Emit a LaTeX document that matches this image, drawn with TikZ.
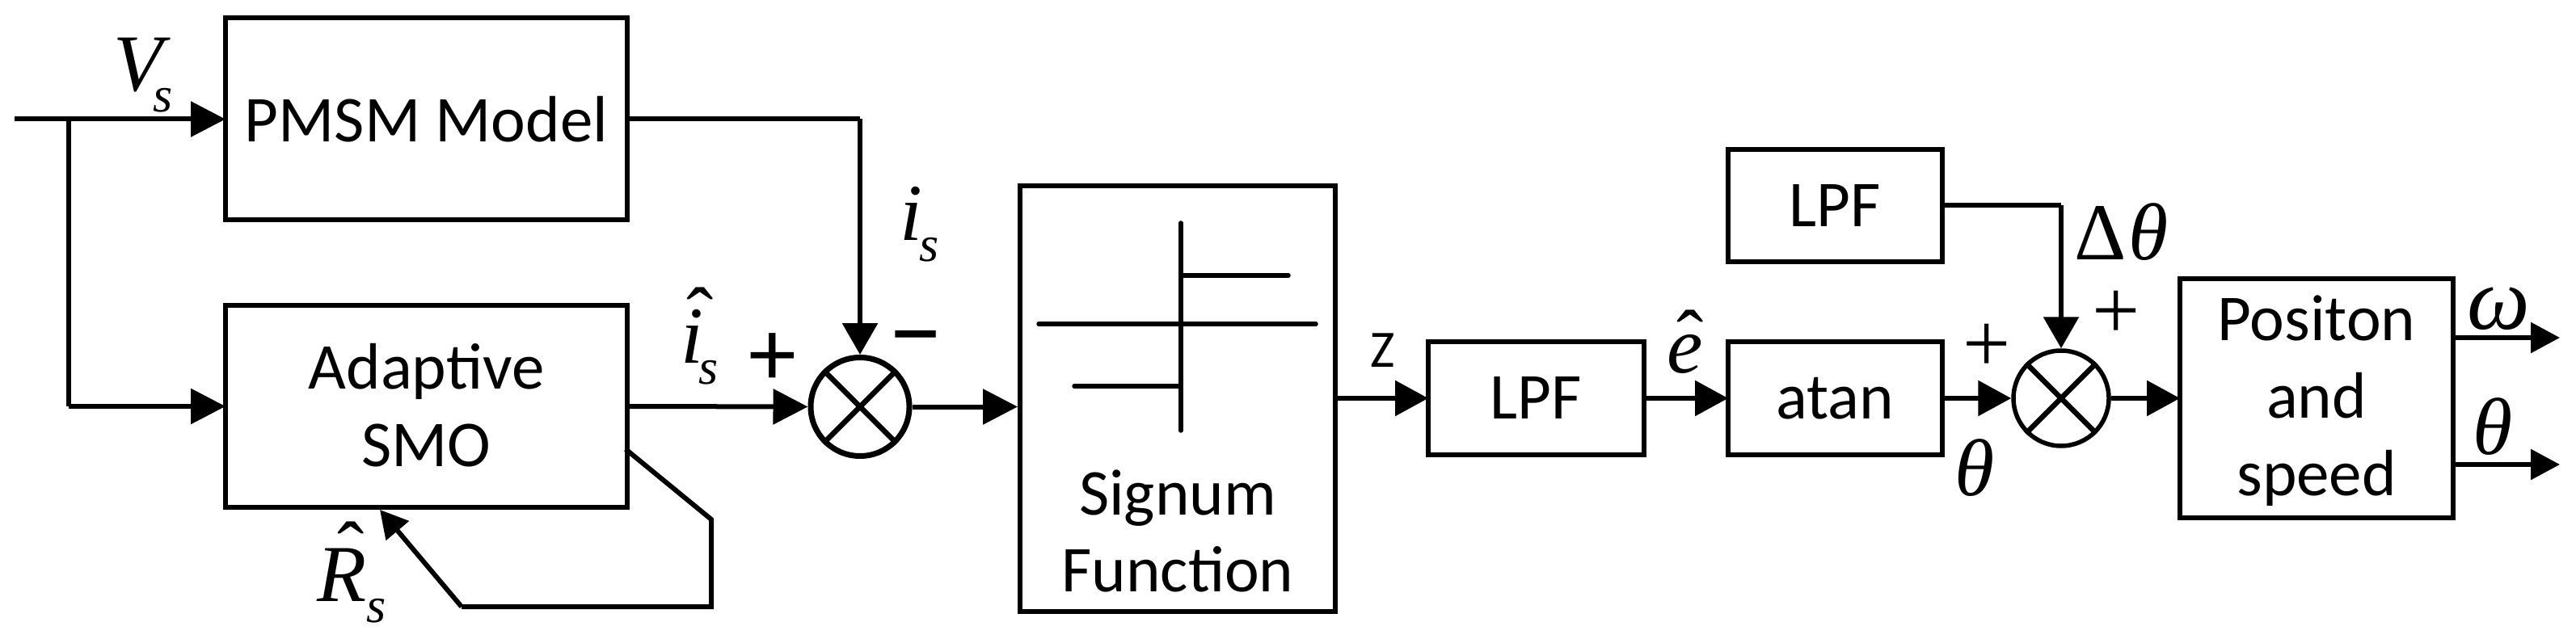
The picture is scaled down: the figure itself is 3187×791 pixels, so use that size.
\documentclass[tikz,border=0pt]{standalone}
\usepackage{fontspec}
\setmainfont{Carlito}
\newfontfamily\tnr{Liberation Serif}
\usetikzlibrary{arrows.meta}
\newcommand{\bigit}{\tnr\itshape\fontsize{100}{100}\selectfont}
\newcommand{\subs}{\raisebox{-26pt}{\tnr\itshape\fontsize{62}{62}\selectfont s}}
\newcommand{\hatat}[2]{\makebox[0pt][l]{\hspace{#1}\raisebox{#2}{\tnr\fontsize{100}{100}\selectfont ˆ}}}
\tikzset{
  x=1pt,y=-1pt,
  boxnode/.style={draw=black,line width=6pt,inner sep=0pt,outer sep=0pt,align=center,
    font=\fontsize{81}{96}\selectfont,text=black},
  sumnode/.style={draw=black,circle,line width=7pt,inner sep=0pt,minimum size=122pt},
  txt/.style={inner sep=0pt,outer sep=0pt,text=black,font=\fontsize{81}{96}\selectfont,align=center},
  symb/.style={inner sep=0pt,outer sep=0pt,anchor=base west,text=black},
  signmark/.style={inner sep=0pt,outer sep=0pt,text=black,font=\tnr\fontsize{105}{105}\selectfont},
  boldmark/.style={inner sep=0pt,outer sep=0pt,text=black,font=\fontsize{118}{118}\selectfont},
  wire/.style={draw=black,line width=6pt,line join=miter},
  flow/.style={wire,-{Triangle[length=43pt,width=43pt]}},
  flowr/.style={wire,-{Triangle[length=41pt,width=43pt]}},
  dropflow/.style={wire,-{Triangle[length=39pt,width=43pt]}},
  outflow/.style={wire,-{Triangle[length=36pt,width=37pt]}},
  backflow/.style={wire,-{Triangle[length=34pt,width=36pt]}},
  plotline/.style={draw=black,line width=5.5pt,line cap=round},
  crossline/.style={draw=black,line width=6.5pt},
}
\begin{document}
\begin{tikzpicture}
\path[fill=white,use as bounding box] (0,0) rectangle (3187,791);

% blocks
\node[boxnode,minimum width=497pt,minimum height=250pt] (pmsm) at (527.5,147.5)
  {\rule{0pt}{52pt}PMSM Model};
\node[boxnode,minimum width=497pt,minimum height=250pt] (smo) at (527.5,503)
  {\rule{0pt}{60pt}Adaptive\\SMO\rule[-8pt]{0pt}{8pt}};
\node[boxnode,minimum width=390pt,minimum height=527pt] (sgn) at (1457,493.5) {};
\node[boxnode,minimum width=267pt,minimum height=140pt] (lpfa) at (1900.5,493) {\rule{0pt}{50pt}LPF};
\node[boxnode,minimum width=265pt,minimum height=140pt] (atan) at (2270.5,493) {\rule{0pt}{50pt}atan};
\node[boxnode,minimum width=265pt,minimum height=139pt] (lpfb) at (2270.5,254.5) {\rule{0pt}{50pt}LPF};
\node[boxnode,minimum width=338pt,minimum height=296pt] (pos) at (2866,493)
  {\rule{0pt}{65pt}Positon\\and\\speed\rule[-16pt]{0pt}{16pt}};
\node[sumnode] (suma) at (1064,503.5) {};
\node[sumnode,minimum size=118pt,line width=5.5pt] (sumb) at (2550,493) {};

% crosses in the summing junctions
\draw[crossline] (suma.45) -- (suma.225) (suma.135) -- (suma.315);
\draw[crossline] (sumb.45) -- (sumb.225) (sumb.135) -- (sumb.315);

% signum plot
\coordinate (vt) at (1461,276);
\coordinate (vb) at (1461,533);
\coordinate (hl) at (1285,401);
\coordinate (hr) at (1628,401);
\coordinate (up) at (1461,341);
\coordinate (upr) at (1594,341);
\coordinate (lo) at (1461,478);
\coordinate (lol) at (1329,478);
\draw[plotline] (vt) -- (vb);
\draw[plotline] (hl) -- (hr);
\draw[plotline] (up) -- (upr);
\draw[plotline] (lo) -- (lol);
\node[txt,anchor=base] (sgntxta) at (1457,637) {Signum};
\node[txt,anchor=base] (sgntxtb) at (1457,732.5) {Function};

% connectors
\coordinate (in) at (18,147.5);
\coordinate (br) at (85,147.5);
\coordinate (brd) at (85,503);
\coordinate (pmsmc) at (1064,147.5);
\coordinate (sgnin) at (1259,503.5);
\draw[flow] (in) -- (pmsm.west);
\draw[wire] (br) -- (brd);
\draw[flow] (brd) -- (smo.west);
\draw[wire] (pmsm.east) -- (pmsmc);
\draw[dropflow] (pmsmc) -- (suma.north);
\draw[flow] (smo.east) -- (suma.west);
\draw[flow] (suma.east) -- (sgnin);
\draw[flowr] (sgn.east |- lpfa.west) -- (lpfa.west);
\draw[flowr] (lpfa.east) -- (atan.west);
\draw[flowr] (atan.east) -- (sumb.west);
\draw[flowr] (sumb.east) -- (pos.west);
\coordinate (lpfc) at (2550,254.5);
\draw[wire] (lpfb.east) -- (lpfc);
\draw[dropflow] (lpfc) -- (sumb.north);
\coordinate (outa) at (3167,418);
\coordinate (outb) at (3167,575);
\coordinate (outas) at (3035,418);
\coordinate (outbs) at (3035,575);
\draw[outflow] (outas) -- (outa);
\draw[outflow] (outbs) -- (outb);
\coordinate (fba) at (774,556);
\coordinate (fbb) at (880,643);
\coordinate (fbc) at (880,751);
\coordinate (fbd) at (571,751);
\coordinate (fbe) at (470,631);
\draw[wire] (fba) -- (fbb) -- (fbc) -- (fbd);
\draw[backflow] (fbd) -- (fbe);

% signal labels
\node[symb] (lvs) at (140,113) {{\bigit V}\kern-12pt\subs};
\node[symb] (lis) at (1113,298) {{\bigit i}\kern-3pt\subs};
\node[symb] (lish) at (842,449) {\hatat{7pt}{24pt}{\bigit i}\kern-5pt\subs};
\node[symb] (lrh) at (392,744) {\hatat{25pt}{29pt}{\bigit R}\subs};
\node[symb] (leh) at (2062,461) {\hatat{12pt}{8pt}{\bigit e}};
\node[symb] (lth) at (2418,613) {\bigit θ};
\node[symb] (ldt) at (2566,322) {{\tnr\fontsize{100}{100}\selectfont Δ}\kern3pt{\bigit θ}};
\node[symb] (lom) at (3052,407) {{\tnr\itshape\fontsize{110}{110}\selectfont ω}};
\node[symb] (lthb) at (3059,562) {\bigit θ};
\node[txt,font=\fontsize{65}{65}\selectfont] (lz) at (1711,433.5) {Z};
\node[boldmark] (pa) at (956,445) {+};
\node[boldmark,font=\fontsize{135}{135}\selectfont] (ma) at (1133,433) {−};
\node[signmark] (pb) at (2458,431) {+};
\node[signmark] (pc) at (2618,390) {+};
\end{tikzpicture}
\end{document}
